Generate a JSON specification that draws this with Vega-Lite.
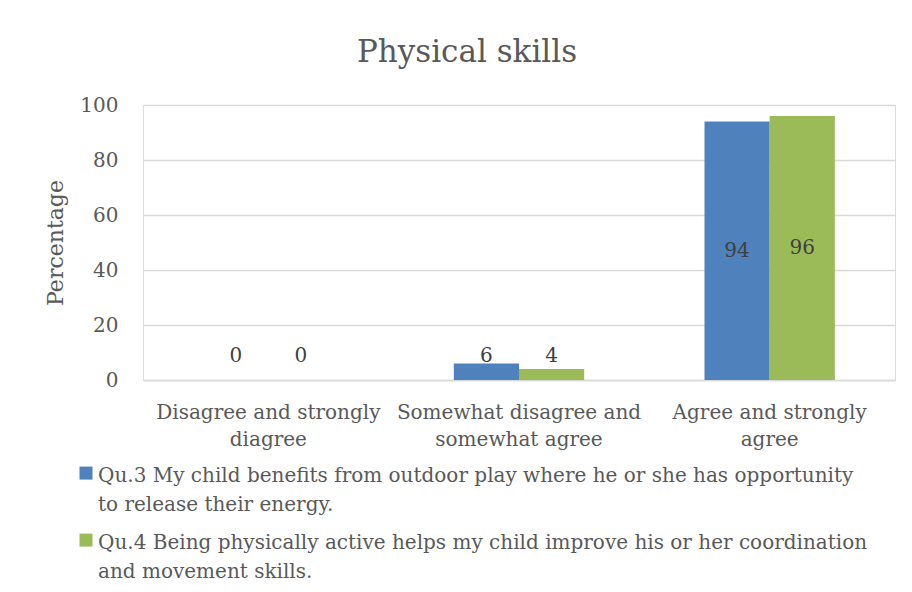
{
  "$schema": "https://vega.github.io/schema/vega-lite/v6.json",
  "width": 752,
  "height": 275,
  "autosize": {"type": "none"},
  "padding": {"left": 143, "top": 105, "right": 17, "bottom": 212},
  "background": "white",
  "config": {
    "style": {"guide-label": {"lineHeight": 29}}
  },
  "title": {
    "text": "Physical skills",
    "fontSize": 31,
    "font": "DejaVu Serif",
    "fontWeight": "normal",
    "color": "#595959",
    "offset": 26,
    "anchor": "middle",
    "dx": -52
  },
  "data": {
    "values": [
      {"category": "Disagree and strongly diagree", "series": "Qu.3 My child benefits from outdoor play where he or she has opportunity to release their energy.", "value": 0},
      {"category": "Disagree and strongly diagree", "series": "Qu.4 Being physically active helps my child improve his or her coordination and movement skills.", "value": 0},
      {"category": "Somewhat disagree and somewhat agree", "series": "Qu.3 My child benefits from outdoor play where he or she has opportunity to release their energy.", "value": 6},
      {"category": "Somewhat disagree and somewhat agree", "series": "Qu.4 Being physically active helps my child improve his or her coordination and movement skills.", "value": 4},
      {"category": "Agree and strongly agree", "series": "Qu.3 My child benefits from outdoor play where he or she has opportunity to release their energy.", "value": 94},
      {"category": "Agree and strongly agree", "series": "Qu.4 Being physically active helps my child improve his or her coordination and movement skills.", "value": 96}
    ]
  },
  "encoding": {
    "x": {
      "field": "category",
      "type": "nominal",
      "sort": null,
      "scale": {"paddingInner": 0.48, "paddingOuter": 0.24},
      "axis": {
        "title": null,
        "labelAngle": 0,
        "labelFont": "DejaVu Serif",
        "labelFontSize": 20,
        "labelColor": "#595959",
        "labelPadding": 22,
        "labelLineHeight": 27,
        "labelBaseline": "top",
        "labelLimit": 400,
        "ticks": false,
        "domainColor": "#d9d9d9",
        "domainWidth": 1.3,
        "labelExpr": "datum.label == 'Disagree and strongly diagree' ? ['Disagree and strongly', 'diagree'] : datum.label == 'Somewhat disagree and somewhat agree' ? ['Somewhat disagree and', 'somewhat agree'] : ['Agree and strongly', 'agree']"
      }
    },
    "xOffset": {"field": "series", "type": "nominal", "sort": null, "scale": {"paddingInner": 0, "paddingOuter": 0}}
  },
  "layer": [
    {
      "mark": {"type": "bar"},
      "encoding": {
        "y": {
          "field": "value",
          "type": "quantitative",
          "scale": {"domain": [0, 100]},
          "axis": {
            "title": "Percentage",
            "titleFont": "DejaVu Serif",
            "titleFontSize": 22,
            "titleFontWeight": "normal",
            "titleColor": "#595959",
            "titlePadding": 12,
            "values": [0, 20, 40, 60, 80, 100],
            "labelFont": "DejaVu Serif",
            "labelFontSize": 20,
            "labelColor": "#595959",
            "labelPadding": 25,
            "ticks": false,
            "domain": false,
            "gridColor": "#d9d9d9",
            "gridWidth": 1.3
          }
        },
        "color": {
          "field": "series",
          "type": "nominal",
          "sort": null,
          "scale": {"range": ["#4F81BD", "#9BBB59"]},
          "legend": {
            "title": null,
            "orient": "none",
            "legendX": -67,
            "legendY": 351,
            "direction": "vertical",
            "symbolType": "M-1,0.09H1V2.09H-1Z",
            "symbolSize": 169,
            "symbolStrokeWidth": 0,
            "labelFont": "DejaVu Serif",
            "labelFontSize": 20,
            "labelColor": "#595959",
            "labelLimit": 900,
            "labelOffset": 2,
            "labelBaseline": "top",
            "rowPadding": 8,
            "labelExpr": "datum.label == 'Qu.3 My child benefits from outdoor play where he or she has opportunity to release their energy.' ? ['Qu.3 My child benefits from outdoor play where he or she has opportunity', 'to release their energy.'] : ['Qu.4 Being physically active helps my child improve his or her coordination', 'and movement skills.']"
          }
        }
      }
    },
    {
      "transform": [{"calculate": "max(datum.value / 2, 8.8)", "as": "labelPos"}],
      "mark": {"type": "text", "font": "DejaVu Serif", "fontSize": 20, "color": "#404040", "baseline": "middle"},
      "encoding": {
        "y": {"field": "labelPos", "type": "quantitative"},
        "text": {"field": "value", "type": "quantitative"}
      }
    }
  ]
}
